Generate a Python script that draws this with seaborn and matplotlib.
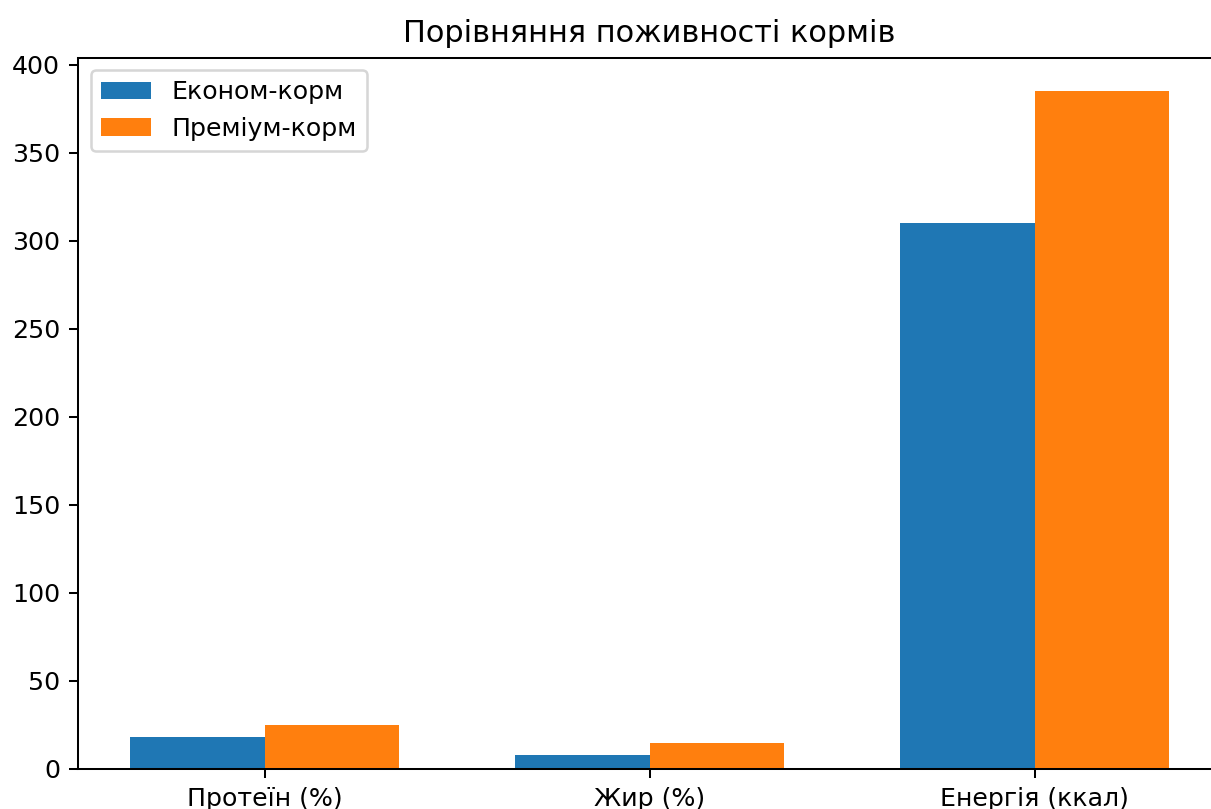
import matplotlib
matplotlib.use("Agg")
import matplotlib.pyplot as plt
import seaborn as sns
import pandas as pd

categories = ["Протеїн (%)", "Жир (%)", "Енергія (ккал)"]
series_names = ["Економ-корм", "Преміум-корм"]
econ_values = [18, 8, 310]
premium_values = [25, 15, 385]
title = "Порівняння поживності кормів"

rows = []
for c, v in zip(categories, econ_values):
    rows.append({"cat": c, "val": v, "feed": series_names[0]})
for c, v in zip(categories, premium_values):
    rows.append({"cat": c, "val": v, "feed": series_names[1]})
df = pd.DataFrame(rows)

DPI = 182
fig = plt.figure(figsize=(1211 / DPI, 809 / DPI), dpi=DPI)
ax = fig.add_axes([78 / 1211, 1 - 769 / 809, (1221.3 - 78) / 1211, (769 - 57.5) / 809])

sns.barplot(data=df, x="cat", y="val", hue="feed", order=categories,
            hue_order=series_names, palette=["#1f77b4", "#ff7f0e"],
            saturation=1, width=0.7, errorbar=None, ax=ax, linewidth=0)

ax.set_xlim(-0.485, 2.485)
ax.set_ylim(0, 404.25)
ax.set_xlabel("")
ax.set_ylabel("")
ax.set_title(title)
sns.move_legend(ax, "upper left", title=None, frameon=True)

fig.savefig("out.png", dpi=DPI)
